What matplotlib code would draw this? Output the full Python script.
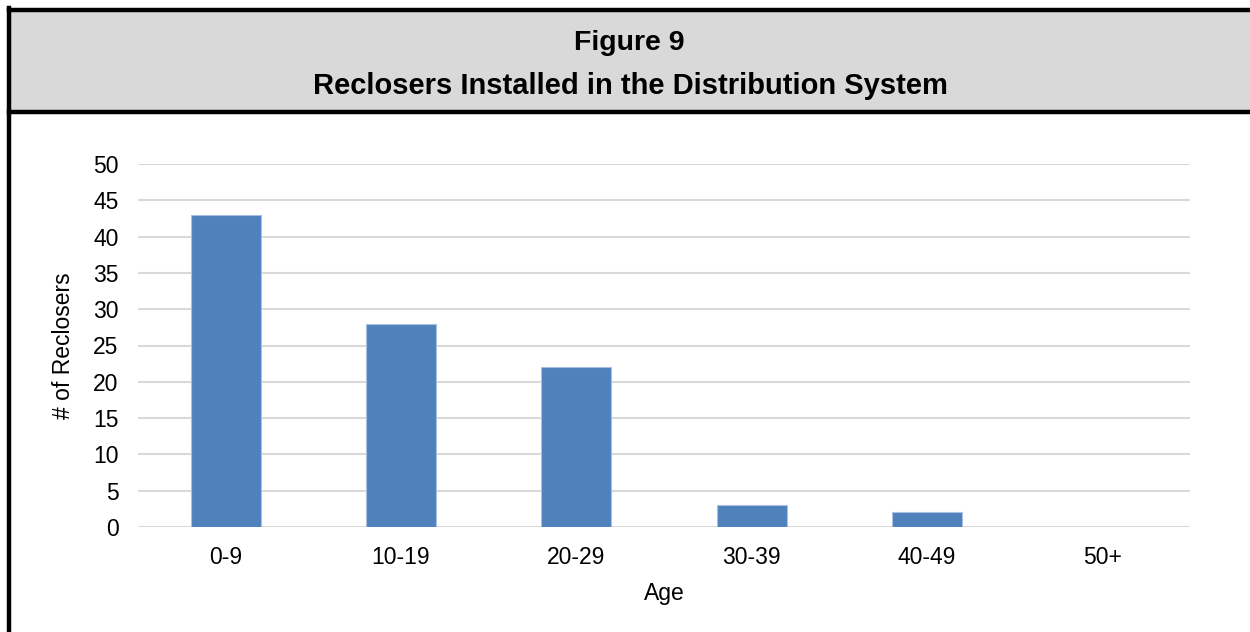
import matplotlib.pyplot as plt
from matplotlib.patches import Rectangle
from matplotlib.lines import Line2D

plt.rcParams['font.family'] = ['Liberation Sans', 'DejaVu Sans']

# reclosers by age group
ages = ['0-9', '10-19', '20-29', '30-39', '40-49', '50+']
counts = [43, 28, 22, 3, 2, 0]

fig = plt.figure(figsize=(12.5, 6.32), dpi=100)

# header band with black frame
fig.patches.append(Rectangle((8.5 / 1250, 1 - 111.5 / 632), 1.0, 102 / 632,
                             transform=fig.transFigure, facecolor='#d9d9d9',
                             edgecolor='none', zorder=0))
frame_kw = dict(transform=fig.transFigure, color='black', linewidth=3.2)
fig.lines.append(Line2D([8.5 / 1250, 1.0], [1 - 9.5 / 632] * 2, **frame_kw))
fig.lines.append(Line2D([8.5 / 1250, 1.0], [1 - 111.5 / 632] * 2, **frame_kw))
fig.lines.append(Line2D([8.5 / 1250] * 2, [0.0, 1 - 8 / 632], **frame_kw))

fig.text(0.5035, 1 - 50 / 632, 'Figure 9', ha='center', va='baseline',
         fontsize=20.5, fontweight='bold')
fig.text(0.504, 1 - 94 / 632, 'Reclosers Installed in the Distribution System',
         ha='center', va='baseline', fontsize=21, fontweight='bold')

ax = fig.add_axes([138 / 1250, 1 - 527 / 632, (1190 - 138) / 1250, (527 - 164) / 632])
ax.bar(range(len(ages)), counts, width=0.4, color='#4f81bd',
       edgecolor='#a9c1e2', linewidth=0.8, zorder=3)

ax.set_xlim(-0.5, len(ages) - 0.5)
ax.set_ylim(0, 50)
ax.set_yticks(range(0, 51, 5))
ax.set_xticks(range(len(ages)))
ax.set_xticklabels(ages)
ax.grid(axis='y', color='#d9d9d9', linewidth=1.5, zorder=0)
ax.tick_params(length=0, labelsize=16.5)
ax.tick_params(axis='y', pad=14)
ax.tick_params(axis='x', pad=14)
for side in ['top', 'right', 'left', 'bottom']:
    ax.spines[side].set_visible(False)

ax.set_xlabel('Age', fontsize=16.5, labelpad=9)
ax.set_ylabel('# of Reclosers', fontsize=16.5, labelpad=13)

fig.savefig('out.png', dpi=100)
